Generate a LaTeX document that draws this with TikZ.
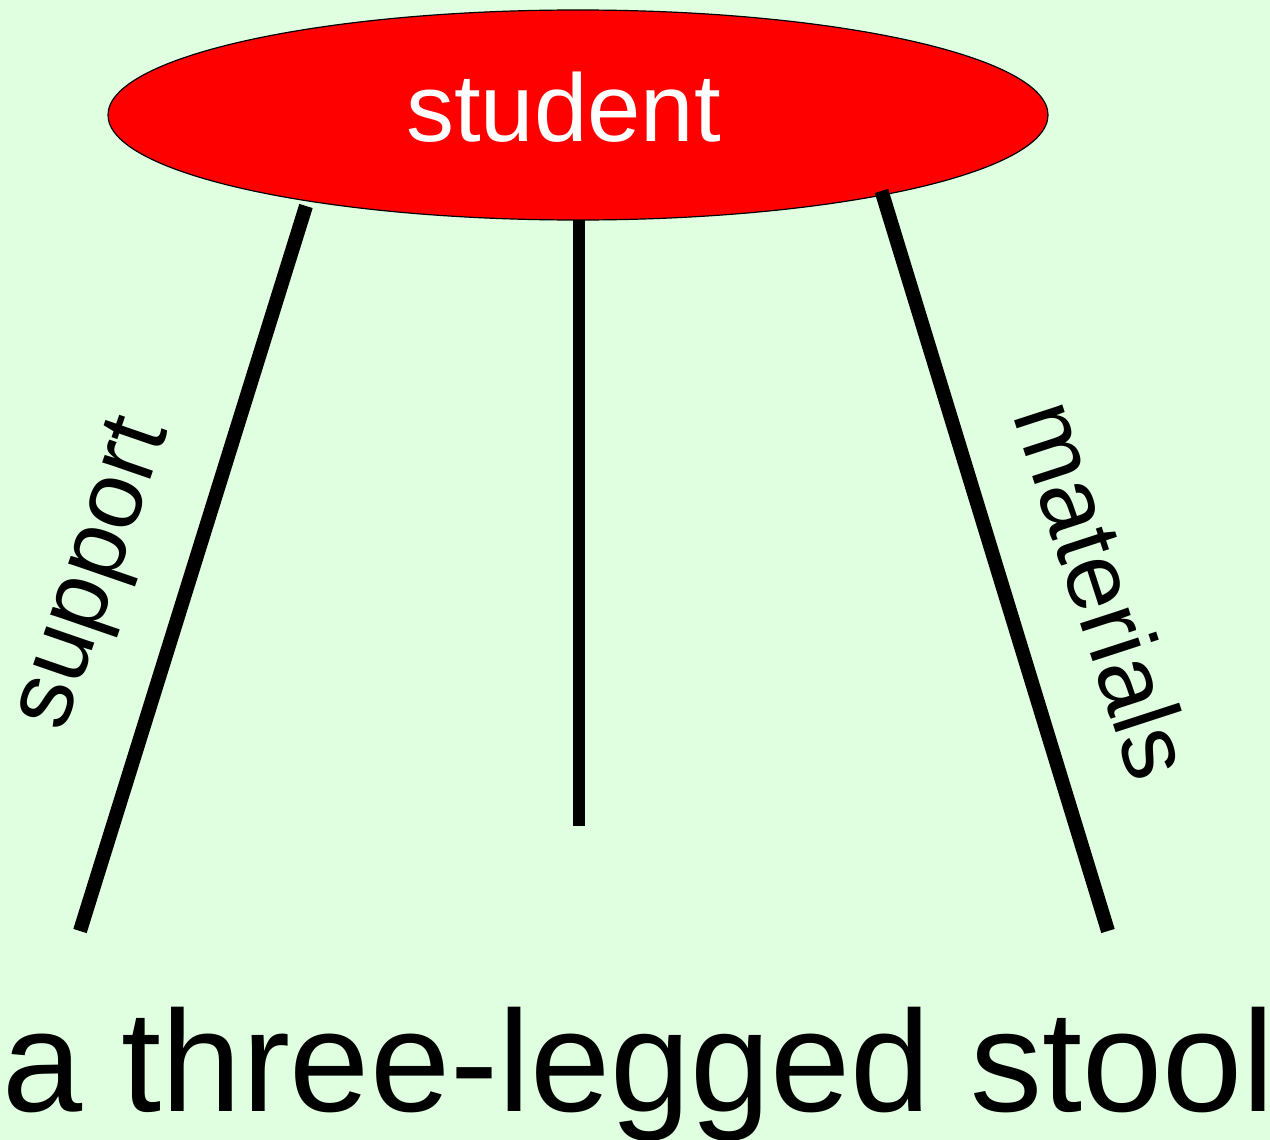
\documentclass[tikz,border=0pt]{standalone}
\usepackage{fontspec}
\setmainfont{Liberation Sans}
\usetikzlibrary{shapes.geometric}
\definecolor{bggreen}{HTML}{E0FFE0}
\definecolor{seatred}{HTML}{FF0000}
\tikzset{
  leg/.style={line width=14pt, line cap=butt, draw=black},
  midleg/.style={line width=11.5pt, line cap=butt, draw=black},
  lbl/.style={inner sep=0pt, font=\fontsize{96}{96}\selectfont},
}
\begin{document}
\begin{tikzpicture}[x=1pt,y=-1pt]
\fill[bggreen] (0,0) rectangle (1270,1140);
\useasboundingbox (0,0) rectangle (1270,1140);
\node[ellipse, fill=seatred, draw=black, line width=1.2pt, minimum width=940pt, minimum height=210pt, inner sep=0pt] (seat) at (578,115) {};
\node[lbl, anchor=base, text=white] (student) at (563.5,141.7) {student};
\coordinate (lt) at (306,206);
\coordinate (lb) at (80,931);
\coordinate (mt) at (579,220);
\coordinate (mb) at (579,826);
\coordinate (rt) at (881.5,191);
\coordinate (rb) at (1108,931);
\draw[leg] (lt) -- (lb);
\draw[midleg] (mt) -- (mb);
\draw[leg] (rt) -- (rb);
\node[lbl, rotate=71] (support) at (96,575) {support};
\node[lbl, rotate=-72] (materials) at (1105,589) {materials};
\node[inner sep=0pt, anchor=base west, font=\fontsize{144}{144}\selectfont] (caption) at (1.8,1111) {a three-legged stool};
\end{tikzpicture}
\end{document}
